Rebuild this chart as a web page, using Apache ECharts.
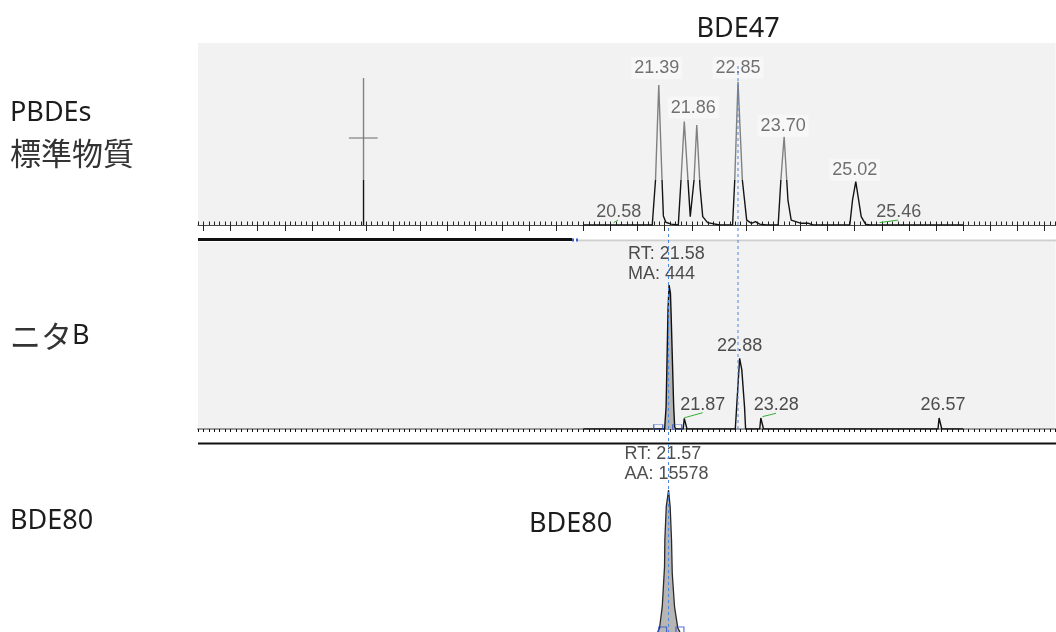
<!DOCTYPE html>
<html>
<head>
<meta charset="utf-8">
<script src="https://cdn.jsdelivr.net/npm/echarts@6/dist/echarts.min.js"></script>
<style>
  html, body { margin: 0; padding: 0; background: #fff; }
  #chart { width: 1056px; height: 632px; }
</style>
</head>
<body>
<div id="chart"></div>
<script>
// Retention-time window (min) shared by the three stacked traces
const rtRange = [12.9, 28.7];
const majorTickStep = 0.5;
const minorTickStep = 0.1;

// PBDEs standard mixture: [retention time (min), relative response]
const standardTrace = [
  [20.00, 0], [21.27, 0], [21.33, 24.7], [21.39, 76.9], [21.45, 24.7], [21.475, 5.0],
  [21.52, 1.5], [21.62, 0.5], [21.75, 0], [21.80, 24.7], [21.86, 56.8], [21.97, 4.6],
  [22.04, 24.7], [22.09, 54.9], [22.15, 21.0], [22.20, 4.6], [22.29, 1.3], [22.51, 0],
  [22.75, 0], [22.79, 24.7], [22.85, 78.7], [22.93, 24.7], [23.01, 2.7], [23.10, 0.9],
  [23.17, 1.8], [23.25, 0.5], [23.37, 0], [23.59, 0], [23.64, 24.7], [23.70, 48.5],
  [23.77, 13.7], [23.83, 2.7], [24.00, 1.0], [24.14, 1.0], [24.23, 0], [24.91, 0],
  [24.96, 13.7], [25.02, 23.8], [25.12, 4.6], [25.20, 0.5], [25.28, 0], [27.00, 0]
];
const standardSpike = [[15.95, 0], [15.95, 80.8]];
const standardCross = [[15.68, 47.8], [16.21, 47.8]];
// labelled apexes of the standard
const standardPeaks = [[21.39, 76.9], [21.86, 56.8], [22.85, 78.7], [23.70, 48.5], [25.02, 23.8]];
// small integrated signals on the standard baseline
const standardMinor = [[20.58, 0], [25.46, 0]];
const standardMinorBaselines = [
  [[20.56, 1.3], [20.64, 2.7]],
  [[25.46, 1.3], [25.80, 2.7]]
];

// Sample ニタB
const sampleTrace = [
  [20.00, 0], [21.50, 0], [21.50, 1.2], [21.525, 11.9], [21.56, 63.6], [21.58, 77.0],
  [21.605, 72.7], [21.617, 62.0], [21.665, 11.9], [21.683, 1.2], [21.70, 0],
  [21.84, 0], [21.86, 5.7], [21.89, 5.7], [21.91, 0],
  [22.80, 0], [22.88, 37.8], [22.92, 31.6], [22.97, 11.9], [22.99, 0],
  [23.25, 0], [23.27, 5.9], [23.30, 5.9], [23.32, 0],
  [26.535, 0], [26.555, 5.9], [26.585, 5.9], [26.605, 0], [27.00, 0]
];
const sampleIntegratedRange = [21.50, 21.70];
const sampleBounds = [21.38, 21.73];
const sampleApex = [21.58, 77.0];
const sampleMA = 444;
const samplePeaks = [[21.87, 5.7], [22.88, 37.8], [23.28, 5.9], [26.57, 5.9]];
const sampleMinorBaselines = [
  [[21.86, 6.0], [22.20, 8.7]],
  [[23.30, 6.6], [23.55, 8.4]]
];

// BDE80 reference
const bde80Trace = [
  [21.37, 0], [21.404, 2.1], [21.454, 13.4], [21.496, 34.6], [21.502, 48.7], [21.528, 66.3],
  [21.57, 75.1], [21.60, 66.3], [21.625, 48.7], [21.638, 31.2], [21.68, 13.4],
  [21.741, 2.1], [21.78, 0]
];
const bde80Bounds = [21.46, 21.78];
const bde80Apex = [21.57, 75.1];
const bde80AA = 15578;

// retention-time cursors
const cursorTimes = [21.57, 22.85];

// ---- axis ticks ----
const majorTicks = [];
for (let i = Math.ceil(rtRange[0] / majorTickStep); i * majorTickStep <= rtRange[1] + 1e-9; i++) {
  majorTicks.push(+(i * majorTickStep).toFixed(2));
}
const minorTicks = [];
for (let i = Math.round(rtRange[0] / minorTickStep); i * minorTickStep <= rtRange[1] + 1e-9; i++) {
  minorTicks.push(+(i * minorTickStep).toFixed(2));
}

// ---- layout & styles ----
const plotLeft = 198, plotWidth = 857.5;
const panelBg = '#f2f2f2';
const numFont = '"Liberation Sans", Arial, sans-serif';
const bigFont = '"Noto Sans", "Noto Sans CJK JP", sans-serif';
const cjkFont = '"Noto Sans CJK JP", "Noto Sans", sans-serif';

const standardLabelOffsets = [[-2, -17], [9, -14], [0, -14], [-1, -11], [-1, -12]];
const standardMinorOffsets = [[4, -13], [19, -13]];
const sampleLabelOffsets = [[18, -13], [0, -12], [15, -13], [3, -13]];
// vertical extent (px) of each cursor line
const cursorSpans = [[228, 632], [66, 431]];

// upper part of the standard trace is rendered faded (global pixel gradient)
const hazeEdge = 180 / 632;
const fadedStroke = {
  type: 'linear', x: 0, y: 0, x2: 0, y2: 632, global: true,
  colorStops: [
    { offset: 0, color: '#808080' }, { offset: hazeEdge, color: '#808080' },
    { offset: hazeEdge, color: '#141414' }, { offset: 1, color: '#141414' }
  ]
};

const rtText = v => v.toFixed(2);

const hazyLabel = {
  show: true, position: 'inside', fontFamily: numFont, fontSize: 18, color: '#4e4e4e',
  backgroundColor: 'rgba(255,255,255,0.5)', padding: [2, 3],
  textShadowColor: 'rgba(255,255,255,0.95)', textShadowBlur: 3,
  formatter: p => rtText(p.value[0])
};
const plainLabel = {
  show: true, position: 'inside', fontFamily: numFont, fontSize: 18, color: '#222',
  formatter: p => rtText(p.value[0])
};
const hidden = { color: 'rgba(0,0,0,0)' };

function xAxisFor(gridIndex, extra) {
  return Object.assign({
    gridIndex, type: 'value', min: rtRange[0], max: rtRange[1],
    axisLabel: { show: false }, splitLine: { show: false }
  }, extra);
}

function segments(list, xAxisIndex, yAxisIndex, style) {
  return list.map(seg => ({
    type: 'line', xAxisIndex, yAxisIndex, data: seg, symbol: 'none', z: 4,
    lineStyle: style, silent: true
  }));
}

const chart = echarts.init(document.getElementById('chart'), null, { renderer: 'canvas' });

const series = [
  // standard trace
  { type: 'line', xAxisIndex: 0, yAxisIndex: 0, data: standardTrace, symbol: 'none',
    lineStyle: { width: 1.4, color: fadedStroke }, z: 3 },
  // spike
  { type: 'line', xAxisIndex: 0, yAxisIndex: 0, data: standardSpike, symbol: 'none',
    lineStyle: { width: 1.4, color: fadedStroke }, z: 3 },
  // cross mark
  { type: 'line', xAxisIndex: 0, yAxisIndex: 0, data: standardCross, symbol: 'none',
    lineStyle: { width: 1.2, color: '#6a6a6a' }, z: 3 },
  // apex labels
  { type: 'scatter', xAxisIndex: 0, yAxisIndex: 0, symbolSize: 1, itemStyle: hidden, z: 4,
    label: hazyLabel,
    data: standardPeaks.map((p, i) => ({ value: p, label: { offset: standardLabelOffsets[i] } })) },
  // minor labels
  { type: 'scatter', xAxisIndex: 0, yAxisIndex: 0, symbolSize: 1, itemStyle: hidden, z: 4,
    label: Object.assign({}, plainLabel, { color: '#333' }),
    data: standardMinor.map((p, i) => ({ value: p, label: { offset: standardMinorOffsets[i] } })) },
  ...segments(standardMinorBaselines, 0, 0, { color: '#35b035', width: 1 }),

  // sample trace
  { type: 'line', xAxisIndex: 2, yAxisIndex: 1, data: sampleTrace, symbol: 'none',
    lineStyle: { width: 1.4, color: '#111' }, z: 3 },
  // integrated area
  { type: 'line', xAxisIndex: 2, yAxisIndex: 1, symbol: 'none', z: 2,
    data: sampleTrace.filter(p => p[0] >= sampleIntegratedRange[0] && p[0] <= sampleIntegratedRange[1]),
    lineStyle: { width: 0, opacity: 0 }, areaStyle: { color: '#b3b3b3', opacity: 1 } },
  // integration bounds
  { type: 'scatter', xAxisIndex: 2, yAxisIndex: 1, symbol: 'rect', symbolSize: [9, 5],
    symbolOffset: [0, -2], z: 4,
    itemStyle: { color: 'rgba(0,0,0,0)', borderColor: '#3050c8', borderWidth: 1 },
    data: sampleBounds.map(t => [t, 0]) },
  // peak labels
  { type: 'scatter', xAxisIndex: 2, yAxisIndex: 1, symbolSize: 1, itemStyle: hidden, z: 4,
    label: plainLabel,
    data: samplePeaks.map((p, i) => ({ value: p, label: { offset: sampleLabelOffsets[i] } })) },
  // RT / MA annotation
  { type: 'scatter', xAxisIndex: 2, yAxisIndex: 1, symbolSize: 1, itemStyle: hidden, z: 4,
    label: Object.assign({}, plainLabel, {
      align: 'left', verticalAlign: 'middle', lineHeight: 20, offset: [-41, -21],
      formatter: p => 'RT: ' + rtText(p.value[0]) + '\nMA: ' + sampleMA
    }),
    data: [sampleApex] },
  ...segments(sampleMinorBaselines, 2, 1, { color: '#35b035', width: 1 }),

  // BDE80 peak
  { type: 'line', xAxisIndex: 3, yAxisIndex: 2, data: bde80Trace, symbol: 'none', z: 3,
    lineStyle: { width: 1.3, color: '#2a2a2a' }, areaStyle: { color: '#b6b6b6', opacity: 1 } },
  // integration bounds
  { type: 'scatter', xAxisIndex: 3, yAxisIndex: 2, symbol: 'rect', symbolSize: [8, 6],
    symbolOffset: [0, -2], z: 4,
    itemStyle: { color: 'rgba(0,0,0,0)', borderColor: '#3050c8', borderWidth: 1 },
    data: bde80Bounds.map(t => [t, 0]) },
  // RT / AA annotation
  { type: 'scatter', xAxisIndex: 3, yAxisIndex: 2, symbolSize: 1, itemStyle: hidden, z: 4,
    label: Object.assign({}, plainLabel, {
      align: 'left', verticalAlign: 'middle', lineHeight: 20, offset: [-44, -26],
      formatter: p => 'RT: ' + rtText(p.value[0]) + '\nAA: ' + bde80AA
    }),
    data: [bde80Apex] },

  // cursors across the panels
  ...cursorTimes.map((t, i) => ({
    type: 'line', xAxisIndex: 4, yAxisIndex: 3, symbol: 'none', z: 10, silent: true,
    data: [[t, cursorSpans[i][0]], [t, cursorSpans[i][1]]],
    lineStyle: { color: '#4a86e0', width: 1, type: [3, 3] }
  }))
];

chart.setOption({
  animation: false,
  backgroundColor: '#ffffff',
  grid: [
    { left: plotLeft, width: plotWidth, top: 43, height: 182, show: true, backgroundColor: panelBg, borderWidth: 0 },
    { left: plotLeft, width: plotWidth, top: 242, height: 187, show: true, backgroundColor: panelBg, borderWidth: 0 },
    { left: plotLeft, width: plotWidth, top: 443, height: 189 },
    { left: plotLeft, width: plotWidth, top: 0, height: 632 }
  ],
  xAxis: [
    xAxisFor(0, {
      axisLine: { show: true, onZero: false, lineStyle: { color: '#4a4a4a', width: 1.2 } },
      axisTick: { show: true, customValues: majorTicks, length: 6, lineStyle: { color: '#222', width: 1 } }
    }),
    xAxisFor(0, {
      axisLine: { show: false },
      axisTick: { show: true, customValues: minorTicks, length: 3.5, lineStyle: { color: '#222', width: 1 } }
    }),
    xAxisFor(1, {
      axisLine: { show: true, onZero: false, lineStyle: { color: '#9a9a9a', width: 2 } },
      axisTick: { show: true, customValues: minorTicks, length: 3, lineStyle: { color: '#111', width: 1 } }
    }),
    xAxisFor(2, { show: false }),
    xAxisFor(3, { show: false })
  ],
  yAxis: [
    { gridIndex: 0, type: 'value', min: 0, max: 100, show: false },
    { gridIndex: 1, type: 'value', min: 0, max: 100, show: false },
    { gridIndex: 2, type: 'value', min: 0, max: 100, show: false },
    { gridIndex: 3, type: 'value', min: 0, max: 632, inverse: true, show: false }
  ],
  series,
  graphic: [
    // panel separators / scroll bar
    { type: 'line', shape: { x1: 198, y1: 239.5, x2: 572, y2: 239.5 }, style: { stroke: '#111', lineWidth: 3 } },
    { type: 'rect', shape: { x: 572, y: 238.5, width: 2, height: 3 }, style: { fill: '#3a5fcd' } },
    { type: 'rect', shape: { x: 576, y: 238.5, width: 2, height: 3 }, style: { fill: '#3a5fcd' } },
    { type: 'line', shape: { x1: 578, y1: 240.5, x2: 1056, y2: 240.5 }, style: { stroke: '#cfcfcf', lineWidth: 2 } },
    { type: 'line', shape: { x1: 198, y1: 443.5, x2: 1056, y2: 443.5 }, style: { stroke: '#111', lineWidth: 2 } },
    // captions
    { type: 'text', x: 738, y: 29, style: { text: 'BDE47', font: '27px ' + bigFont, fill: '#1c1c1c', align: 'center', verticalAlign: 'middle' } },
    { type: 'text', x: 10, y: 113, style: { text: 'PBDEs', font: '27px ' + bigFont, fill: '#1c1c1c', align: 'left', verticalAlign: 'middle' } },
    { type: 'text', x: 10, y: 153, style: { text: '標準物質', font: '31px ' + cjkFont, fill: '#333', align: 'left', verticalAlign: 'middle' } },
    { type: 'text', x: 10, y: 336, style: {
        text: '{j|ニタ}{l|B}', align: 'left', verticalAlign: 'middle', fill: '#1c1c1c',
        rich: { j: { fontSize: 31, fontFamily: cjkFont, fill: '#333' }, l: { fontSize: 27, fontFamily: bigFont, fill: '#1c1c1c' } } } },
    { type: 'text', x: 10, y: 521, style: { text: 'BDE80', font: '27px ' + bigFont, fill: '#1c1c1c', align: 'left', verticalAlign: 'middle' } },
    { type: 'text', x: 529, y: 524, style: { text: 'BDE80', font: '27px ' + bigFont, fill: '#1c1c1c', align: 'left', verticalAlign: 'middle' } }
  ]
});
</script>
</body>
</html>
